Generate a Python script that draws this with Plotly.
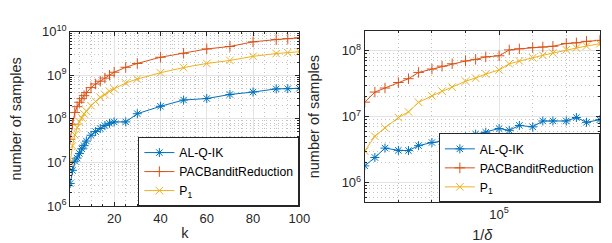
import plotly.graph_objects as go

# ---------------- data: left panel (vs k) ----------------
k_vals = [1, 2, 3, 4, 5, 6, 7, 8, 10, 12, 14, 16, 18, 20,
          25, 30, 40, 50, 60, 70, 80, 90, 95, 100]
alq_k = [3.3e6, 6.6e6, 1.07e7, 1.26e7, 1.61e7, 2.06e7, 2.43e7, 3.1e7, 4.2e7, 5.1e7,
         6.0e7, 7.0e7, 7.9e7, 8.5e7,
         8.5e7, 1.31e8, 1.94e8, 2.7e8, 2.92e8, 3.62e8, 4.11e8, 4.86e8, 4.9e8, 5.0e8]
pac_k = [3.4e7, 7.5e7, 1.4e8, 1.9e8, 2.4e8, 2.9e8, 3.4e8, 4.0e8, 5.2e8, 6.3e8,
         7.3e8, 8.6e8, 1.0e9, 1.17e9,
         1.52e9, 1.86e9, 2.58e9, 3.18e9, 4.0e9, 4.56e9, 5.82e9, 6.56e9, 6.89e9, 7.2e9]
p1_k = [1.0e7, 2.4e7, 4.3e7, 6.3e7, 8.5e7, 1.05e8, 1.3e8, 1.5e8, 2.0e8, 2.5e8,
        3.1e8, 3.6e8, 4.3e8, 4.87e8,
        6.62e8, 8.18e8, 1.14e9, 1.5e9, 1.86e9, 2.18e9, 2.71e9, 3.14e9, 3.3e9, 3.46e9]

# ---------------- data: right panel (vs 1/delta) ----------------
inv_delta = [1e1, 2e1, 4e1, 1e2, 2e2, 4e2, 1e3, 2e3, 4e3, 1e4, 2e4, 4e4,
             1e5, 2e5, 4e5, 1e6, 2e6, 4e6, 1e7, 2e7, 4e7, 1e8]
alq_d = [1.79e6, 2.40e6, 3.33e6, 3.08e6, 3.05e6, 3.63e6, 4.05e6, 4.23e6, 4.42e6, 4.95e6,
         5.43e6, 5.8e6, 6.6e6, 6.2e6, 7.36e6, 7.0e6, 8.6e6, 8.6e6, 8.6e6, 9.7e6, 8.2e6, 9.0e6]
pac_d = [1.66e7, 2.36e7, 2.72e7, 3.3e7, 3.77e7, 4.69e7, 5.28e7, 5.84e7, 6.35e7, 7.0e7,
         7.4e7, 8.07e7, 8.4e7, 1.03e8, 1.07e8, 1.12e8, 1.14e8, 1.17e8, 1.29e8, 1.32e8,
         1.39e8, 1.44e8]
p1_d = [3.01e6, 5.03e6, 6.76e6, 9.68e6, 1.18e7, 1.65e7, 2.07e7, 2.44e7, 2.81e7, 3.46e7,
        3.85e7, 4.44e7, 5.11e7, 6.35e7, 7.0e7, 7.83e7, 8.53e7, 9.22e7, 1.04e8, 1.10e8,
        1.18e8, 1.28e8]

series_names = ["AL-Q-IK", "PACBanditReduction", "P<sub>1</sub>"]
colors = ["#0072BD", "#D95319", "#EDB120"]
symbols = ["asterisk-open", "cross-thin-open", "x-thin-open"]

W, H = 612, 243
FONT = "Liberation Sans, Arial, sans-serif"

fig = go.Figure()

left_sets = [alq_k, pac_k, p1_k]
right_sets = [alq_d, pac_d, p1_d]
for i in range(3):
    fig.add_trace(go.Scatter(
        x=k_vals, y=left_sets[i], mode="lines+markers", name=series_names[i],
        line=dict(color=colors[i], width=1),
        marker=dict(symbol=symbols[i], size=7.5, color=colors[i],
                    line=dict(color=colors[i], width=1)),
        xaxis="x", yaxis="y", legend="legend"))
for i in range(3):
    fig.add_trace(go.Scatter(
        x=inv_delta, y=right_sets[i], mode="lines+markers", name=series_names[i],
        line=dict(color=colors[i], width=1),
        marker=dict(symbol=symbols[i], size=7.5, color=colors[i],
                    line=dict(color=colors[i], width=1)),
        xaxis="x2", yaxis="y2", legend="legend2"))

grid_major = "#e3e3e3"
grid_minor = "#c4c4c4"
DOT = "1px,3px"
axcol = "#262626"

def minor_log(lo, hi):
    vals = []
    for e in range(lo, hi):
        for m in range(2, 10):
            vals.append(m * 10 ** e)
    return vals

common = dict(showline=True, linecolor=axcol, linewidth=1, mirror="allticks",
              ticks="inside", ticklen=4, tickcolor=axcol,
              tickfont=dict(family=FONT, size=13, color=axcol),
              gridcolor=grid_major, gridwidth=1, zeroline=False)

lx0, lx1 = 63.3 / W, 296.7 / W
rx0, rx1 = 363.3 / W, 602.7 / W
ly0, ly1 = 1 - 203.3 / H, 1 - 15.7 / H
ry0, ry1 = 1 - 199.3 / H, 1 - 15.0 / H

TFONT = dict(family=FONT, size=14.5, color=axcol)
LFONT = dict(family=FONT, size=12.2, color="black")

fig.update_layout(
    width=W, height=H, margin=dict(l=0, r=0, t=0, b=0),
    paper_bgcolor="white", plot_bgcolor="white",
    font=dict(family=FONT, size=12, color=axcol),
    xaxis=dict(domain=[lx0, lx1], range=[1, 100], tickvals=[20, 40, 60, 80, 100],
               minor=dict(tick0=0, dtick=5, showgrid=True, gridcolor=grid_minor,
                          griddash=DOT, ticks="inside", ticklen=2, tickcolor=axcol),
               title=dict(text="k", font=TFONT, standoff=3),
               anchor="y", **common),
    yaxis=dict(domain=[ly0, ly1], type="log", range=[6, 10],
               tickvals=[1e6, 1e7, 1e8, 1e9, 1e10],
               ticktext=["10<sup>6</sup>", "10<sup>7</sup>", "10<sup>8</sup>",
                         "10<sup>9</sup>", "10<sup>10</sup>"],
               minor=dict(tickmode="array", tickvals=minor_log(6, 10), showgrid=True,
                          gridcolor=grid_minor, griddash=DOT, ticks="inside",
                          ticklen=2, tickcolor=axcol),
               title=dict(text="number of samples", font=TFONT, standoff=18),
               anchor="x", **common),
    xaxis2=dict(domain=[rx0, rx1], type="log", range=[1, 8], tickvals=[1e5],
                ticktext=["10<sup>5</sup>"],
                minor=dict(tickmode="array", tickvals=[1e2, 1e3, 1e4, 1e6, 1e7],
                           showgrid=True, gridcolor=grid_minor, griddash=DOT,
                           ticks="inside", ticklen=2, tickcolor=axcol),
                title=dict(text="1/<i>δ</i>", font=TFONT, standoff=8),
                anchor="y2", **common),
    yaxis2=dict(domain=[ry0, ry1], type="log", range=[5.69897, 8.30103],
                tickvals=[1e6, 1e7, 1e8],
                ticktext=["10<sup>6</sup>", "10<sup>7</sup>", "10<sup>8</sup>"],
                minor=dict(tickmode="array", tickvals=minor_log(5, 9), showgrid=True,
                           gridcolor=grid_minor, griddash=DOT, ticks="inside",
                           ticklen=2, tickcolor=axcol),
                title=dict(text="number of samples", font=TFONT, standoff=18),
                anchor="x2", **common),
    legend=dict(x=lx1, y=ly0, xanchor="right", yanchor="bottom",
                bgcolor="white", bordercolor=axcol, borderwidth=1,
                font=LFONT, itemwidth=30, tracegroupgap=0),
    legend2=dict(x=rx1, y=ry0, xanchor="right", yanchor="bottom",
                 bgcolor="white", bordercolor=axcol, borderwidth=1,
                 font=LFONT, itemwidth=30, tracegroupgap=0),
    showlegend=True,
)

fig.write_html("out.html")
